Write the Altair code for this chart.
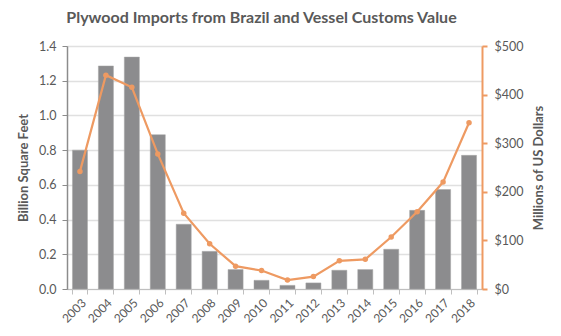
import altair as alt
import pandas as pd

years = [str(y) for y in range(2003, 2019)]
plywood_bsf = [0.80, 1.285, 1.336, 0.889, 0.373, 0.217, 0.112, 0.050, 0.021, 0.035,
               0.108, 0.112, 0.229, 0.453, 0.573, 0.770]
customs_musd = [242, 440, 415, 278, 156, 93, 47, 38, 18.5, 25.5, 58, 61, 107, 159, 220, 342]

df = pd.DataFrame({"Year": years, "Plywood": plywood_bsf, "Value": customs_musd})

FONT = "Lato"
GRAY = "#595959"
ORANGE = "#EE9A62"

x_enc = alt.X("Year:N", sort=years, title=None,
              scale=alt.Scale(paddingInner=0.42, paddingOuter=0.21),
              axis=alt.Axis(labelAngle=-45, labelFontSize=12, labelColor=GRAY, labelFont=FONT,
                            tickBand="extent", domainColor="#BFBFBF", tickColor="#BFBFBF",
                            tickSize=5, labelPadding=3))

bars = alt.Chart(df).mark_bar(color="#8C8C8E", stroke="#A6A6A6", strokeWidth=0.5).encode(
    x=x_enc,
    y=alt.Y("Plywood:Q", title="Billion Square Feet",
            scale=alt.Scale(domain=[0, 1.4], nice=False),
            axis=alt.Axis(values=[0, 0.2, 0.4, 0.6, 0.8, 1.0, 1.2, 1.4], format=".1f",
                          labelFontSize=12.5, labelColor=GRAY, labelFont=FONT, labelPadding=6,
                          titleFont=FONT, titleFontSize=13, titleColor=GRAY, titleFontWeight="bold",
                          titlePadding=8, domainColor="#8C8C8C", domainWidth=1.5,
                          tickColor="#8C8C8C", tickSize=5, gridColor="#E0E0E0", gridWidth=1.5)),
)

line = alt.Chart(df).mark_line(color=ORANGE, strokeWidth=2.2,
                               point=alt.OverlayMarkDef(color=ORANGE, size=30, filled=True)).encode(
    x=alt.X("Year:N", sort=years),
    y=alt.Y("Value:Q", title="Millions of US Dollars",
            scale=alt.Scale(domain=[0, 500], nice=False),
            axis=alt.Axis(orient="right", values=[0, 100, 200, 300, 400, 500], format="$,.0f",
                          labelFontSize=12.5, labelColor=GRAY, labelFont=FONT, labelPadding=7,
                          titleFont=FONT, titleFontSize=13, titleColor=GRAY, titleFontWeight="bold",
                          titleAngle=270, titleBaseline="top", titlePadding=10,
                          domainColor=ORANGE, domainWidth=2,
                          tickColor=ORANGE, tickWidth=2, tickSize=5, grid=False)),
)

chart = alt.layer(bars, line).resolve_scale(y="independent").properties(
    width=415, height=243,
    title=alt.TitleParams("Plywood Imports from Brazil and Vessel Customs Value",
                          font=FONT, fontSize=16, fontWeight="bold", color=GRAY,
                          anchor="middle", dx=-13, offset=14),
    autosize=alt.AutoSizeParams(type="none"),
    padding={"left": 67, "top": 46, "right": 79, "bottom": 47},
).configure_view(stroke=None).configure(background="white")

chart.save("out.html", embed_options={"renderer": "svg", "actions": False})
